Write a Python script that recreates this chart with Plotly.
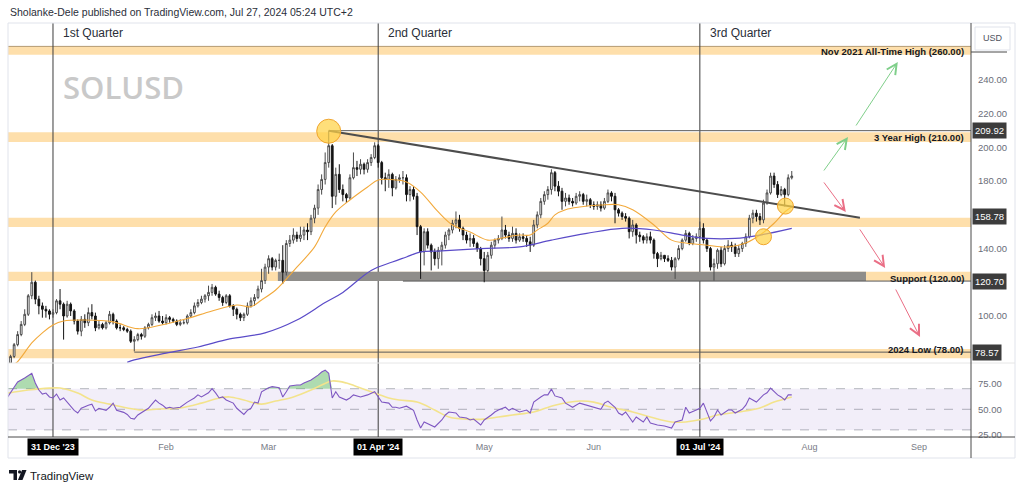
import plotly.graph_objects as go
import pandas as pd

# ---------------- DATA ----------------
first_open = 72.0
dec_close = [76, 83, 89, 95, 101, 112, 120, 110, 106, 104, 103, 101, 102]
dec_high = [77, 84, 91, 97, 104, 113, 126, 121, 112, 108, 106, 104, 104]
dec_low = [71, 75, 82, 88, 94, 100, 110, 107, 101, 99, 99, 98, 99]

jan_close = [109, 107, 100, 107, 103, 97, 91, 98, 96, 102, 100, 93, 95, 93, 96, 101, 97, 93, 93, 92,
             91, 85, 86, 89, 88, 93, 95, 99, 100, 97, 96]
jan_high = [110, 116, 108, 109, 108, 104, 98, 100, 101, 105, 107, 102, 97, 96, 97, 103, 102, 98, 95, 94,
            93, 92, 88, 90, 90, 94, 96, 101, 102, 103, 100]
jan_low = [101, 104, 86, 99, 100, 95, 89, 88, 93, 94, 98, 91, 92, 92, 92, 95, 95, 92, 91, 91,
           90, 84, 79, 85, 86, 87, 92, 94, 97, 96, 95]

feb_close = [99, 98, 97, 95, 96, 96, 100, 102, 106, 108, 110, 112, 114, 117, 113, 111, 108, 112, 106, 104,
             101, 99, 101, 106, 109, 111, 116, 121, 129]
feb_high = [101, 100, 99, 98, 98, 98, 101, 104, 108, 110, 112, 113, 118, 119, 118, 115, 112, 113, 113, 107,
            105, 102, 102, 108, 111, 113, 118, 128, 131]
feb_low = [95, 96, 96, 94, 94, 95, 95, 99, 101, 105, 107, 108, 109, 112, 112, 109, 106, 107, 105, 100,
           98, 97, 97, 100, 105, 106, 110, 114, 119]

mar_close = [134, 129, 133, 133, 126, 143, 145, 148, 146, 148, 151, 150, 158, 164, 175, 181, 191, 201, 171, 184,
             175, 172, 170, 182, 188, 187, 190, 187, 191, 194, 201]
mar_high = [136, 135, 134, 137, 142, 145, 148, 152, 150, 153, 153, 155, 160, 166, 178, 184, 197, 209.9, 202, 188,
            190, 178, 173, 184, 197, 192, 193, 191, 193, 196, 203]
mar_low = [125, 127, 127, 128, 119, 124, 141, 143, 144, 144, 145, 145, 148, 155, 160, 172, 178, 188, 164, 166,
           173, 168, 167, 169, 181, 183, 184, 184, 185, 189, 193]

apr_close = [191, 182, 181, 184, 176, 181, 182, 182, 172, 175, 171, 153, 138, 150, 142, 138, 134, 139, 142, 148,
             151, 155, 157, 152, 148, 145, 146, 143, 140, 134]
apr_high = [202, 192, 185, 187, 185, 183, 184, 186, 184, 177, 177, 173, 154, 152, 152, 143, 140, 141, 144, 150,
            152, 157, 162, 160, 153, 150, 149, 148, 144, 141]
apr_low = [188, 178, 174, 176, 171, 175, 179, 178, 168, 168, 169, 148, 122, 130, 140, 127, 130, 128, 130, 140,
           145, 149, 152, 150, 145, 143, 141, 141, 138, 130]

may_close = [127, 136, 142, 145, 146, 151, 148, 146, 149, 145, 147, 146, 144, 142, 154, 160, 168, 172, 175, 185,
             177, 174, 168, 170, 168, 167, 171, 172, 168, 169, 166]
may_high = [138, 138, 144, 146, 148, 159, 154, 150, 153, 152, 149, 149, 148, 147, 157, 162, 170, 174, 177, 187,
            186, 180, 176, 173, 172, 170, 173, 174, 173, 172, 170]
may_low = [120, 126, 134, 140, 143, 145, 146, 144, 144, 143, 144, 144, 141, 138, 141, 152, 158, 166, 169, 172,
           174, 171, 163, 165, 166, 165, 166, 168, 166, 165, 164]

jun_close = [165, 166, 164, 168, 173, 171, 163, 161, 159, 158, 150, 154, 148, 147, 145, 147, 145, 137, 134, 136,
             134, 133, 129, 134, 140, 145, 149, 143, 146, 147]
jun_high = [168, 168, 168, 170, 175, 174, 173, 164, 162, 161, 159, 157, 155, 150, 148, 149, 150, 146, 138, 138,
            136, 136, 135, 135, 142, 146, 151, 150, 148, 149]
jun_low = [163, 163, 162, 163, 167, 168, 155, 159, 157, 156, 146, 147, 143, 144, 143, 143, 143, 134, 129, 133,
           132, 132, 127, 122, 133, 139, 144, 142, 142, 144]

jul_close = [152, 145, 140, 129, 131, 139, 131, 140, 142, 141, 137, 140, 143, 147, 158, 161, 159, 157, 167, 173,
             183, 178, 172, 175, 172, 182, 183]
jul_high = [156, 155, 146, 141, 134, 140, 141, 142, 145, 144, 143, 142, 144, 149, 160, 163, 163, 161, 169, 175,
            185, 185, 180, 177, 176, 184, 186]
jul_low = [146, 143, 138, 127, 121, 128, 129, 130, 138, 138, 135, 135, 138, 141, 146, 155, 156, 154, 155, 166,
           172, 176, 170, 171, 165, 171, 181]

# orange moving average (read points)
ma_fast_dates = ["2023-12-19", "2023-12-21", "2023-12-25", "2023-12-28", "2023-12-31", "2024-01-03", "2024-01-09",
                 "2024-01-17", "2024-01-24", "2024-01-31", "2024-02-07", "2024-02-14", "2024-02-21", "2024-02-25",
                 "2024-02-28", "2024-03-03", "2024-03-09", "2024-03-14", "2024-03-17", "2024-03-20", "2024-03-24",
                 "2024-03-29", "2024-04-01", "2024-04-06", "2024-04-09", "2024-04-13", "2024-04-18", "2024-04-22",
                 "2024-04-27", "2024-05-02", "2024-05-06", "2024-05-11", "2024-05-14", "2024-05-16", "2024-05-19",
                 "2024-05-21", "2024-05-24", "2024-05-28", "2024-06-03", "2024-06-08", "2024-06-12", "2024-06-18",
                 "2024-06-23", "2024-06-27", "2024-07-03", "2024-07-09", "2024-07-14", "2024-07-18", "2024-07-22",
                 "2024-07-25", "2024-07-27"]
ma_fast_values = [70, 73, 84, 90, 94.7, 97, 97.6, 96.5, 92.5, 94.8, 98.5, 103, 106.5, 105.5,
                  109.5, 115.4, 129, 141, 152.8, 161.7, 168.8, 176.5, 180.7, 180.7, 179.5, 173.5, 161.7, 154,
                  149.8, 145, 146.3, 148, 148, 151, 155, 160, 163, 164.6, 165.8, 166, 163, 154,
                  145, 143.3, 142, 141, 143.3, 148, 155, 161.7, 164.6]

# purple moving average (read points)
ma_slow_dates = ["2024-01-21", "2024-01-23", "2024-02-01", "2024-02-10", "2024-02-19", "2024-02-29", "2024-03-09",
                 "2024-03-17", "2024-03-22", "2024-03-30", "2024-04-05", "2024-04-09", "2024-04-13", "2024-04-19",
                 "2024-04-30", "2024-05-11", "2024-05-20", "2024-05-30", "2024-06-09", "2024-06-18", "2024-06-26",
                 "2024-07-03", "2024-07-11", "2024-07-18", "2024-07-27"]
ma_slow_values = [72.5, 74, 78, 81.6, 86.4, 90, 97.6, 108, 114, 127, 132, 135, 138, 138.6,
                  140, 141, 145, 149, 152, 151, 148, 146, 146, 148, 152]

# RSI
rsi_dates = ["2023-12-18", "2023-12-20", "2023-12-21", "2023-12-23", "2023-12-25", "2023-12-26", "2023-12-27",
             "2023-12-28", "2023-12-29", "2023-12-30", "2023-12-31", "2024-01-01", "2024-01-02", "2024-01-03",
             "2024-01-04", "2024-01-05", "2024-01-06", "2024-01-07", "2024-01-08", "2024-01-10", "2024-01-11",
             "2024-01-12", "2024-01-13", "2024-01-15", "2024-01-16", "2024-01-17", "2024-01-18", "2024-01-20",
             "2024-01-21", "2024-01-22", "2024-01-23", "2024-01-24", "2024-01-25", "2024-01-27", "2024-01-28",
             "2024-01-29", "2024-01-30", "2024-01-31", "2024-02-01", "2024-02-02", "2024-02-03", "2024-02-05",
             "2024-02-07", "2024-02-09", "2024-02-10", "2024-02-11", "2024-02-13", "2024-02-14", "2024-02-15",
             "2024-02-16", "2024-02-17", "2024-02-18", "2024-02-20", "2024-02-21", "2024-02-23", "2024-02-24",
             "2024-02-25", "2024-02-26", "2024-02-27", "2024-02-28", "2024-03-01", "2024-03-02", "2024-03-04",
             "2024-03-05", "2024-03-06", "2024-03-07", "2024-03-09", "2024-03-10", "2024-03-11", "2024-03-13",
             "2024-03-15", "2024-03-16", "2024-03-17", "2024-03-18", "2024-03-19", "2024-03-20", "2024-03-21",
             "2024-03-23", "2024-03-24", "2024-03-25", "2024-03-27", "2024-03-29", "2024-03-31", "2024-04-01",
             "2024-04-02", "2024-04-04", "2024-04-05", "2024-04-06", "2024-04-07", "2024-04-09", "2024-04-11",
             "2024-04-12", "2024-04-13", "2024-04-14", "2024-04-16", "2024-04-17", "2024-04-19", "2024-04-20",
             "2024-04-21", "2024-04-23", "2024-04-24", "2024-04-26", "2024-04-27", "2024-04-28", "2024-04-30",
             "2024-05-01", "2024-05-03", "2024-05-04", "2024-05-05", "2024-05-07", "2024-05-08", "2024-05-09",
             "2024-05-11", "2024-05-13", "2024-05-14", "2024-05-15", "2024-05-17", "2024-05-18", "2024-05-19",
             "2024-05-20", "2024-05-21", "2024-05-23", "2024-05-24", "2024-05-26", "2024-05-28", "2024-05-30",
             "2024-06-01", "2024-06-03", "2024-06-04", "2024-06-05", "2024-06-07", "2024-06-08", "2024-06-09",
             "2024-06-10", "2024-06-12", "2024-06-13", "2024-06-15", "2024-06-16", "2024-06-17", "2024-06-19",
             "2024-06-21", "2024-06-23", "2024-06-24", "2024-06-26", "2024-06-27", "2024-06-28", "2024-06-30",
             "2024-07-01", "2024-07-02", "2024-07-03", "2024-07-04", "2024-07-05", "2024-07-06", "2024-07-07",
             "2024-07-09", "2024-07-10", "2024-07-11", "2024-07-13", "2024-07-14", "2024-07-15", "2024-07-17",
             "2024-07-19", "2024-07-20", "2024-07-21", "2024-07-23", "2024-07-24", "2024-07-25", "2024-07-26",
             "2024-07-27"]
rsi_values = [61, 70.7, 76.5, 80.4, 85, 75.5, 68.7,
              64.8, 65.8, 62, 61, 64.8, 59, 61,
              57, 52, 49, 46.4, 51, 54, 55,
              48.4, 51, 49, 52, 56, 49, 47,
              45, 41.3, 40.5, 44.5, 46.4, 51, 55,
              59, 56, 54, 51, 52, 51, 52,
              57, 61, 64, 62, 66, 70, 66,
              61, 62, 59, 56, 51, 45, 49,
              51, 57, 56, 67, 71, 72, 71,
              62, 67, 72.6, 73.6, 73.6, 75.5, 78.4,
              83.2, 86.2, 88, 85, 61, 67, 62,
              59, 61, 64, 62, 64, 67, 62,
              57, 56, 52, 52, 51, 53, 49,
              39.6, 31.8, 37.7, 34.8, 32.8, 39.6, 44.5,
              47.4, 46.4, 42.5, 41.5, 39.6, 40.5, 34.8,
              39.6, 44.5, 47.4, 49.3, 52, 49, 51,
              47.4, 49.3, 46.4, 57, 62, 64, 64,
              69.6, 63, 61, 56, 52, 56, 54,
              52, 50, 56, 58, 52, 46.4, 44.5,
              47.4, 37.7, 42.5, 37.7, 42.5, 36.7, 34.8,
              33.8, 31.8, 37.7, 39.6, 52, 46.4, 49.3,
              51, 56, 46.4, 38.7, 42.5, 49.3, 44.5,
              49.3, 49.3, 46.4, 50, 54, 61, 57,
              64, 66, 70.6, 64, 62, 59, 64,
              64]

rsi_ma_dates = ["2023-12-18", "2023-12-24", "2023-12-30", "2024-01-02", "2024-01-07", "2024-01-11", "2024-01-16",
                "2024-01-21", "2024-01-25", "2024-01-30", "2024-02-05", "2024-02-11", "2024-02-16", "2024-02-19",
                "2024-02-23", "2024-02-28", "2024-03-03", "2024-03-08", "2024-03-13", "2024-03-16", "2024-03-19",
                "2024-03-23", "2024-03-27", "2024-03-31", "2024-04-04", "2024-04-07", "2024-04-12", "2024-04-17",
                "2024-04-21", "2024-04-26", "2024-05-01", "2024-05-05", "2024-05-09", "2024-05-15", "2024-05-21",
                "2024-05-28", "2024-06-01", "2024-06-06", "2024-06-12", "2024-06-17", "2024-06-23", "2024-06-27",
                "2024-07-02", "2024-07-06", "2024-07-12", "2024-07-18", "2024-07-22", "2024-07-27"]
rsi_ma_values = [65.5, 68.7, 70.6, 70.6, 65.8, 59, 55,
                 51.3, 49.3, 50.3, 51.3, 56, 61, 62,
                 59, 55, 58, 62, 68.7, 73.6, 77.5,
                 75.5, 70.6, 65.8, 61, 59, 57, 49.3,
                 42.5, 40.5, 40.5, 42.5, 44.5, 47.4, 54,
                 58, 57, 52, 47.4, 42.5, 37.7, 37.7,
                 40.5, 44.5, 47.4, 51.3, 57, 62]

# horizontal zones (price ranges) and their labels
band_low = [254.9, 203.2, 152.8, 120.7, 75.0]
band_high = [259.9, 209.0, 158.3, 126.3, 80.4]
level_texts = ["Nov 2021 All-Time High (260.00)", "3 Year High (210.00)", "Support (120.00)", "2024 Low (78.00)"]
level_text_prices = [256.6, 206.0, 122.3, 80.0]
badge_prices = [209.92, 158.78, 120.70, 78.57]

zone_start, zone_end = "2024-03-03 15:00", "2024-08-17"
zone_low, zone_high = 120.7, 126.3

hline_prices = [209.92, 120.70, 78.57]
hline_starts = ["2024-03-18", "2024-04-08", "2024-01-23"]

trend_dates = ["2024-03-18", "2024-08-15 07:00"]
trend_prices = [209.92, 158.3]

circle_dates = ["2024-03-18", "2024-07-19", "2024-07-25 05:00"]
circle_prices = [209.6, 147.0, 165.2]

arrow_tail_dates = ["2024-08-04 19:00", "2024-08-13 22:00", "2024-08-04 19:00", "2024-08-15 00:00", "2024-08-25 05:00"]
arrow_tail_prices = [185.4, 212.1, 180.1, 152.2, 116.6]
arrow_head_dates = ["2024-08-11 22:00", "2024-08-26 00:00", "2024-08-11 07:00", "2024-08-22 10:00", "2024-09-01 07:00"]
arrow_head_prices = [206.2, 250.7, 161.7, 128.5, 87.5]
arrow_kinds = ["up", "up", "down", "down", "down"]

quarter_dates = ["2023-12-31", "2024-04-01", "2024-07-01"]
quarter_names = ["1st Quarter", "2nd Quarter", "3rd Quarter"]
quarter_badges = ["31 Dec '23", "01 Apr '24", "01 Jul '24"]

month_ticks = ["2024-02-01", "2024-03-01", "2024-05-01", "2024-06-01", "2024-08-01", "2024-09-01"]
month_labels = ["Feb", "Mar", "May", "Jun", "Aug", "Sep"]
price_ticks = [100, 140, 180, 200, 220, 240]
rsi_ticks = [25, 50, 75]
rsi_levels = [70, 50, 30]

x_range = ["2023-12-18 06:30", "2024-09-15 17:00"]
price_range = [72.12, 273.78]
rsi_range = [23.1, 94.95]

# ---------------- BUILD ----------------
W, H = 1024, 490
def px(x):
    return x / W
def py(y):
    return 1 - y / H

candle_dates = pd.date_range("2023-12-19", "2024-07-27", freq="D")
closes = dec_close + jan_close + feb_close + mar_close + apr_close + may_close + jun_close + jul_close
highs = dec_high + jan_high + feb_high + mar_high + apr_high + may_high + jun_high + jul_high
lows = dec_low + jan_low + feb_low + mar_low + apr_low + may_low + jun_low + jul_low
opens = [first_open] + closes[:-1]
highs = [max(h, o, c) for h, o, c in zip(highs, opens, closes)]
lows = [min(l, o, c) for l, o, c in zip(lows, opens, closes)]

FONT = "Liberation Sans"
fig = go.Figure()

fig.add_trace(go.Candlestick(
    x=candle_dates, open=opens, high=highs, low=lows, close=closes,
    increasing=dict(line=dict(color="#4a4a4a", width=1), fillcolor="#ffffff"),
    decreasing=dict(line=dict(color="#141414", width=1), fillcolor="#141414"),
    whiskerwidth=0, hoverinfo="skip", showlegend=False, xaxis="x", yaxis="y"))

fig.add_trace(go.Scatter(x=ma_fast_dates, y=ma_fast_values, mode="lines",
                         line=dict(color="#f2a93b", width=1.1, shape="spline"),
                         hoverinfo="skip", showlegend=False, xaxis="x", yaxis="y"))
fig.add_trace(go.Scatter(x=ma_slow_dates, y=ma_slow_values, mode="lines",
                         line=dict(color="#5a4bc8", width=1.2, shape="spline"),
                         hoverinfo="skip", showlegend=False, xaxis="x", yaxis="y"))
fig.add_trace(go.Scatter(x=trend_dates, y=trend_prices, mode="lines",
                         line=dict(color="#4d4d4d", width=2),
                         hoverinfo="skip", showlegend=False, xaxis="x", yaxis="y"))

# RSI pane
fig.add_trace(go.Scatter(x=rsi_dates, y=[rsi_levels[0]] * len(rsi_dates), mode="lines",
                         line=dict(width=0, color="rgba(0,0,0,0)"),
                         hoverinfo="skip", showlegend=False, xaxis="x", yaxis="y2"))
fig.add_trace(go.Scatter(x=rsi_dates, y=[max(v, rsi_levels[0]) for v in rsi_values], mode="lines",
                         line=dict(width=0, color="rgba(0,0,0,0)"), fill="tonexty",
                         fillcolor="rgba(76,175,80,0.45)",
                         hoverinfo="skip", showlegend=False, xaxis="x", yaxis="y2"))
fig.add_trace(go.Scatter(x=rsi_ma_dates, y=rsi_ma_values, mode="lines",
                         line=dict(color="#f3e38c", width=1.6, shape="spline"),
                         hoverinfo="skip", showlegend=False, xaxis="x", yaxis="y2"))
fig.add_trace(go.Scatter(x=rsi_dates, y=rsi_values, mode="lines",
                         line=dict(color="#7e57c2", width=1.1),
                         hoverinfo="skip", showlegend=False, xaxis="x", yaxis="y2"))

shapes = []
# price bands
for lo, hi in zip(band_low, band_high):
    shapes.append(dict(type="rect", xref="paper", yref="y", x0=px(8), x1=px(971), y0=lo, y1=hi,
                       fillcolor="#fedfab", line=dict(width=0), layer="below"))
shapes.append(dict(type="line", xref="paper", yref="y", x0=px(8), x1=px(971), y0=band_high[0], y1=band_high[0],
                   line=dict(color="#b59a72", width=1), layer="below"))
# gray support zone
shapes.append(dict(type="rect", xref="x", yref="y", x0=zone_start, x1=zone_end, y0=zone_low, y1=zone_high,
                   fillcolor="#8f8d8a", line=dict(width=0), layer="below"))
# horizontal rays
for p, s in zip(hline_prices, hline_starts):
    shapes.append(dict(type="line", xref="x", yref="y", x0=s, x1=x_range[1], y0=p, y1=p,
                       line=dict(color="#5a5a5a", width=1), layer="below"))
# RSI band and levels
shapes.append(dict(type="rect", xref="paper", yref="y2", x0=px(8), x1=px(971), y0=rsi_levels[2], y1=rsi_levels[0],
                   fillcolor="rgba(126,87,194,0.10)", line=dict(width=0), layer="below"))
for lv in rsi_levels:
    shapes.append(dict(type="line", xref="paper", yref="y2", x0=px(8), x1=px(971), y0=lv, y1=lv,
                       line=dict(color="rgba(120,123,134,0.55)", width=1, dash="dash"), layer="below"))
# quarter separators
for d in quarter_dates:
    shapes.append(dict(type="line", xref="x", yref="paper", x0=d, x1=d, y0=py(437), y1=py(23),
                       line=dict(color="#3c3c3c", width=1), layer="below"))
# frame lines
shapes.append(dict(type="rect", xref="paper", yref="paper", x0=px(8), x1=px(1015), y0=py(458), y1=py(23),
                   line=dict(color="#e0e3eb", width=1)))
shapes.append(dict(type="line", xref="paper", yref="paper", x0=px(8), x1=px(1015), y0=py(363), y1=py(363),
                   line=dict(color="#e6e6e6", width=1)))
shapes.append(dict(type="line", xref="paper", yref="paper", x0=px(8), x1=px(1015), y0=py(437), y1=py(437),
                   line=dict(color="#4a4a4a", width=1)))
shapes.append(dict(type="line", xref="paper", yref="paper", x0=px(971), x1=px(971), y0=py(458), y1=py(23),
                   line=dict(color="#4a4a4a", width=1)))
shapes.append(dict(type="line", xref="paper", yref="paper", x0=px(971), x1=px(1007), y0=py(52), y1=py(52),
                   line=dict(color="#4a4a4a", width=1)))
shapes.append(dict(type="rect", xref="paper", yref="paper", x0=px(975), x1=px(1010), y0=py(50), y1=py(27),
                   line=dict(color="#e0e3eb", width=1), fillcolor="white"))
# highlight circles
for d, p, r in zip(circle_dates, circle_prices, [12, 8, 8]):
    shapes.append(dict(type="circle", xref="x", yref="y", xsizemode="pixel", ysizemode="pixel",
                       xanchor=d, yanchor=p, x0=-r, x1=r, y0=-r, y1=r,
                       fillcolor="rgba(255,210,70,0.72)", line=dict(color="#f0a52e", width=1),
                       layer="above"))
# TradingView logo
shapes.append(dict(type="path", xref="paper", yref="paper",
                   path=f"M {px(9)},{py(470)} L {px(17)},{py(470)} L {px(17)},{py(480)} L {px(13.5)},{py(480)} "
                        f"L {px(13.5)},{py(473.5)} L {px(9)},{py(473.5)} Z",
                   fillcolor="#131722", line=dict(width=0)))
shapes.append(dict(type="circle", xref="paper", yref="paper", x0=px(18), x1=px(21.2), y0=py(473.5), y1=py(470.3),
                   fillcolor="#131722", line=dict(width=0)))
shapes.append(dict(type="path", xref="paper", yref="paper",
                   path=f"M {px(22)},{py(470)} L {px(26.5)},{py(470)} L {px(22.5)},{py(480)} L {px(18)},{py(480)} Z",
                   fillcolor="#131722", line=dict(width=0)))

annotations = []
annotations.append(dict(text="Sholanke-Dele published on TradingView.com, Jul 27, 2024 05:24 UTC+2",
                        xref="paper", yref="paper", x=px(8), y=py(12), xanchor="left", yanchor="middle",
                        showarrow=False, font=dict(family=FONT, size=10.5, color="#2a2e39")))
annotations.append(dict(text="SOLUSD", xref="paper", yref="paper", x=px(61), y=py(87), xanchor="left",
                        yanchor="middle", showarrow=False,
                        font=dict(family="Open Sans", size=31, color="#c9c9c9", weight=600)))
for d, name in zip(quarter_dates, quarter_names):
    annotations.append(dict(text=name, xref="x", yref="paper", x=d, y=py(33), xanchor="left", yanchor="middle",
                            xshift=8, showarrow=False, font=dict(family=FONT, size=12, color="#2a2e39")))
for d, b in zip(quarter_dates, quarter_badges):
    annotations.append(dict(text=f"<b>{b}</b>", xref="x", yref="paper", x=d, y=py(446.5), xanchor="center",
                            yanchor="middle", showarrow=False, bgcolor="#000000", borderpad=3,
                            font=dict(family=FONT, size=9, color="white")))
for t, p in zip(level_texts, level_text_prices):
    annotations.append(dict(text=f"<b>{t}</b>", xref="paper", yref="y", x=px(966), y=p, xanchor="right",
                            yanchor="middle", showarrow=False, font=dict(family=FONT, size=9.5, color="#131722")))
for p in badge_prices:
    annotations.append(dict(text=f"{p:.2f}", xref="paper", yref="y", x=px(972), y=p, xanchor="left",
                            yanchor="middle", showarrow=False, bgcolor="#3c3c3c", borderpad=2,
                            font=dict(family=FONT, size=9.5, color="white")))
arrow_colors = {"up": "#7fcf8a", "down": "#ea6f86"}
for td, tp, hd, hp, k in zip(arrow_tail_dates, arrow_tail_prices, arrow_head_dates, arrow_head_prices, arrow_kinds):
    annotations.append(dict(text="", x=hd, y=hp, xref="x", yref="y", ax=td, ay=tp, axref="x", ayref="y",
                            showarrow=True, arrowhead=5, arrowsize=2, arrowwidth=1, arrowcolor=arrow_colors[k]))
annotations.append(dict(text="USD", xref="paper", yref="paper", x=px(992.5), y=py(38.5), xanchor="center",
                        yanchor="middle", showarrow=False, font=dict(family=FONT, size=9, color="#50535e")))
annotations.append(dict(text="TradingView", xref="paper", yref="paper", x=px(28), y=py(476), xanchor="left",
                        yanchor="middle", showarrow=False, font=dict(family=FONT, size=11.5, color="#131722")))

fig.update_layout(
    width=W, height=H, autosize=False,
    margin=dict(l=0, r=0, t=0, b=0, pad=0),
    paper_bgcolor="white", plot_bgcolor="white",
    showlegend=False, hovermode=False,
    shapes=shapes, annotations=annotations,
    xaxis=dict(type="date", range=x_range, domain=[px(8), px(971)], anchor="y2",
               rangeslider=dict(visible=False), showgrid=False, zeroline=False, showline=False,
               tickmode="array", tickvals=month_ticks, ticktext=month_labels, ticks="",
               ticklabelstandoff=3, tickfont=dict(family=FONT, size=9, color="#787b86"),
               automargin=False, fixedrange=True),
    yaxis=dict(domain=[py(363), py(23)], range=price_range, anchor="x", side="right",
               showgrid=False, zeroline=False, showline=False, ticks="",
               tickmode="array", tickvals=price_ticks, ticktext=[f"{v:.2f}" for v in price_ticks],
               ticklabelstandoff=6, tickfont=dict(family=FONT, size=9.5, color="#6a6d78"), automargin=False),
    yaxis2=dict(domain=[py(437), py(363)], range=rsi_range, anchor="x", side="right",
                showgrid=False, zeroline=False, showline=False, ticks="",
                tickmode="array", tickvals=rsi_ticks, ticktext=[f"{v:.2f}" for v in rsi_ticks],
                ticklabelstandoff=6, tickfont=dict(family=FONT, size=9.5, color="#6a6d78"), automargin=False),
)

fig.write_html("out.html")
